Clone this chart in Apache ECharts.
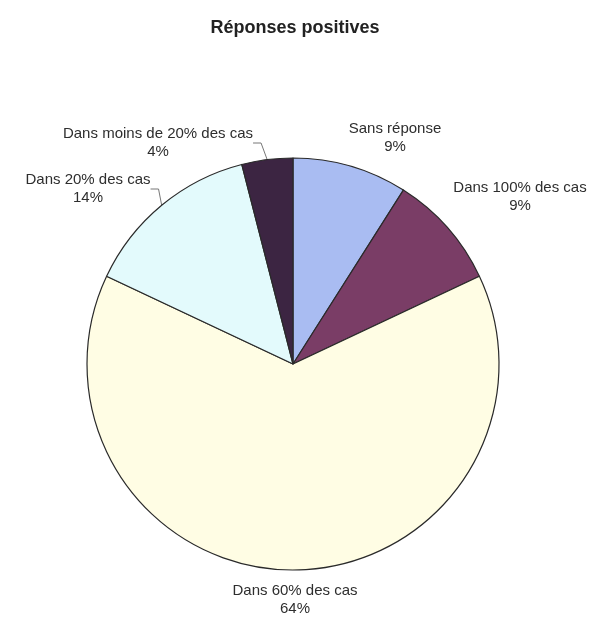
<!DOCTYPE html>
<html>
<head>
<meta charset="utf-8">
<script src="https://cdn.jsdelivr.net/npm/echarts@6/dist/echarts.min.js"></script>
<style>
html,body{margin:0;padding:0;background:#fff;}
#c{width:590px;height:619px;}
</style>
</head>
<body>
<div id="c"></div>
<script>
var title = 'Réponses positives';
var categories = ['Sans réponse', 'Dans 100% des cas', 'Dans 60% des cas', 'Dans 20% des cas', 'Dans moins de 20% des cas'];
var values = [9, 9, 64, 14, 4];
var colors = ['#a9bcf2', '#7a3d66', '#fffde4', '#e3fafc', '#3c2542'];
var showLine = [false, false, false, true, true];
var labelPos = [[395, 138], [520, 197], [295, 600], [88, 189], [158, 143]];

var chart = echarts.init(document.getElementById('c'), null, {renderer: 'canvas'});
var data = categories.map(function (c, i) {
  return {
    name: c,
    value: values[i],
    itemStyle: {color: colors[i]},
    labelLine: {show: showLine[i]}
  };
});
chart.setOption({
  backgroundColor: '#ffffff',
  animation: false,
  title: {
    text: title,
    left: 'center',
    top: 14,
    textStyle: {fontFamily: 'Liberation Sans', fontWeight: 'bold', fontSize: 18, color: '#222'}
  },
  series: [{
    type: 'pie',
    center: [293, 364],
    radius: 206,
    startAngle: 90,
    clockwise: true,
    data: data,
    itemStyle: {borderColor: '#2a2a2a', borderWidth: 1.2},
    label: {
      show: true,
      position: 'outside',
      overflow: 'none',
      formatter: function (p) { return p.name + '\n' + p.value + '%'; },
      fontFamily: 'Liberation Sans',
      fontSize: 15,
      lineHeight: 18,
      color: '#2e2e2e',
      align: 'center'
    },
    labelLine: {length: 8, length2: 8, lineStyle: {color: '#777', width: 1}},
    labelLayout: function (p) {
      var pos = labelPos[p.dataIndex];
      return {x: pos[0], y: pos[1], align: 'center', verticalAlign: 'middle'};
    }
  }]
});
</script>
</body>
</html>
